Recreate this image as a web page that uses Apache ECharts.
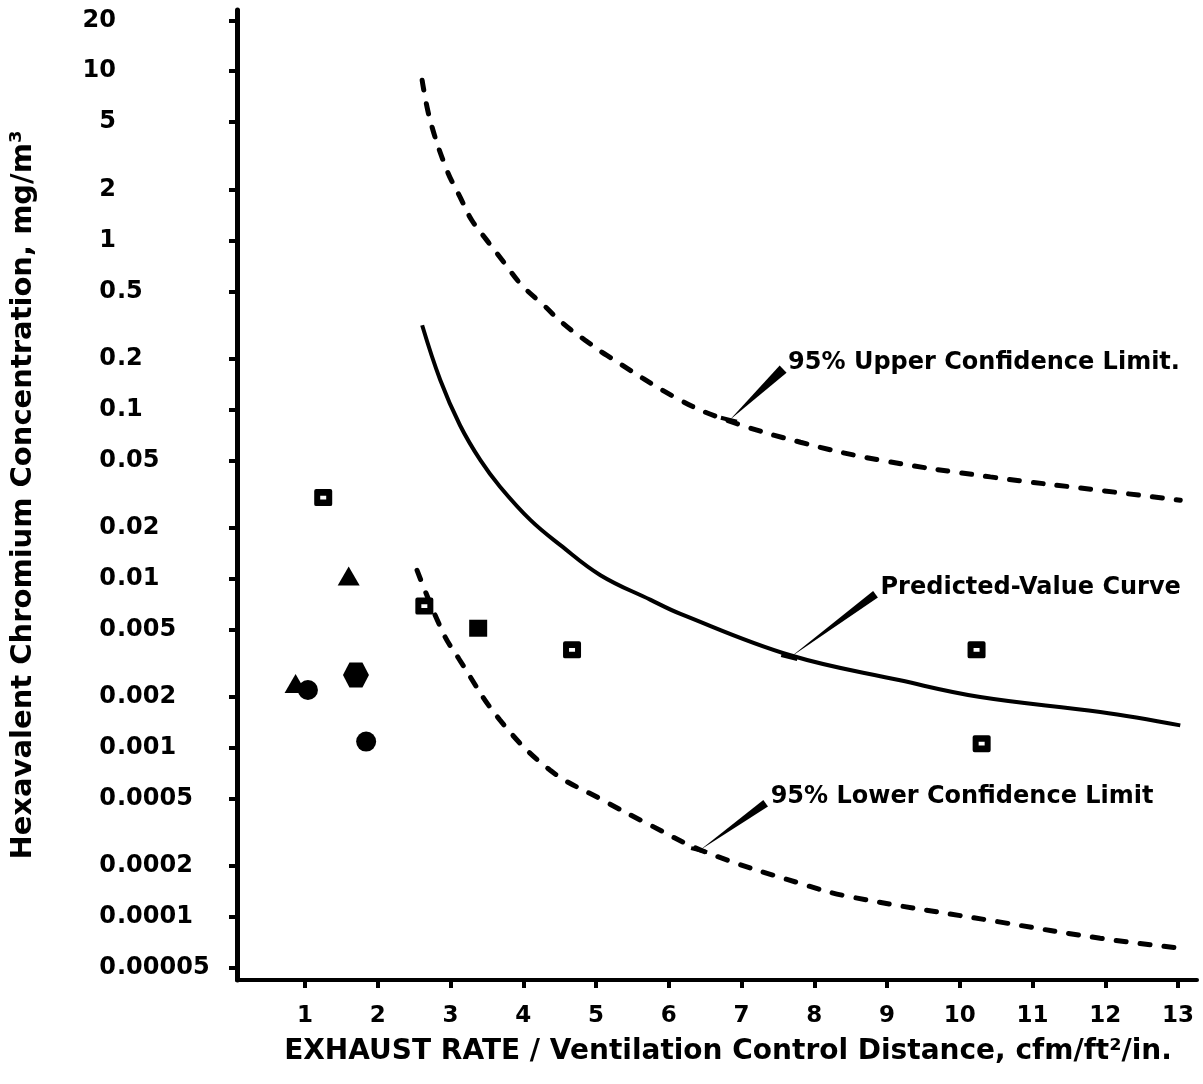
<!DOCTYPE html>
<html><head><meta charset="utf-8">
<script src="https://cdn.jsdelivr.net/npm/echarts@6/dist/echarts.min.js"></script>
<style>html,body{margin:0;padding:0;background:#fff}#c{width:1203px;height:1084px}</style>
</head><body><div id="c"></div>
<script>
// ---- axis ticks ----
const xTicks = [1,2,3,4,5,6,7,8,9,10,11,12,13];
const yTickValues = [0.00005,0.0001,0.0002,0.0005,0.001,0.002,0.005,0.01,0.02,0.05,0.1,0.2,0.5,1,2,5,10,20];
const yTickLabels = ['0.00005','0.0001','0.0002','0.0005','0.001','0.002','0.005','0.01','0.02','0.05','0.1','0.2','0.5','1','2','5','10','20'];

// ---- observed points [exhaust rate, concentration] ----
const openSquares   = [[1.25,0.0302],[2.64,0.0069],[4.67,0.0038],[10.23,0.0038],[10.30,0.00106]];
const filledSquares = [[3.38,0.0051]];
const triangles     = [[1.60,0.0104],[0.87,0.0024]];
const circles       = [[1.04,0.0022],[1.84,0.00109]];
const hexagons      = [[1.70,0.0027]];

// ---- curves ----
const upperX = [2.61,2.72,2.95,3.13,3.29,3.50,3.73,3.98,4.28,4.55,4.85,5.15,6.16,6.80,7.81,8.91,10.42,11.93,13.03];
const upperY = [8.84,5.13,2.6,1.81,1.32,1.0,0.745,0.543,0.414,0.322,0.257,0.209,0.1135,0.0865,0.0641,0.0502,0.040,0.0333,0.0291];
const predX  = [2.61,2.86,3.13,3.41,3.68,4.10,4.51,5.06,5.75,6.16,7.67,9.18,10.28,11.93,13.03];
const predY  = [0.315,0.149,0.0808,0.0502,0.035,0.0222,0.0158,0.0105,0.0075,0.0062,0.00353,0.00251,0.0020,0.00163,0.00136];
const lowerX = [2.54,2.90,3.11,3.68,4.37,5.06,5.75,6.50,7.81,8.49,10.56,11.93,13.03];
const lowerY = [0.0112,0.00476,0.00339,0.00146,0.000738,0.0005,0.000349,0.000243,0.000158,0.000132,0.0000934,0.000075,0.0000655];

// ---- annotations ----
const annotations = [
  {text:'95% Upper Confidence Limit.', tip:[6.84,0.087],    label:[7.64,0.188]},
  {text:'Predicted-Value Curve',       tip:[7.67,0.00344],  label:[8.91,0.00879]},
  {text:'95% Lower Confidence Limit',  tip:[6.43,0.000249], label:[7.40,0.000512]}
];

const FONT = 'DejaVu Sans';
const zip = (xs, ys) => xs.map((x,i) => [x, ys[i]]);
const SQ_OPEN = 'path://M2,0H16Q18,0 18,2V16Q18,18 16,18H2Q0,18 0,16V2Q0,0 2,0Z M6,7V11H12V7Z';
const HEX = 'path://M25,0L75,0L100,45L75,90L25,90L0,45Z';

function labelOf(v){
  let best = 0, bd = Infinity;
  yTickValues.forEach((t,i)=>{ const d = Math.abs(Math.log10(v)-Math.log10(t)); if (d<bd){bd=d;best=i;} });
  return yTickLabels[best];
}
const intPart  = v => { const s = labelOf(v), k = s.indexOf('.'); return k<0 ? s : s.slice(0,k); };
const fracPart = v => { const s = labelOf(v), k = s.indexOf('.'); return k<0 ? '' : s.slice(k); };

const tickFont = {color:'#000', fontFamily:FONT, fontWeight:'bold', fontSize:24};
const yBase = {type:'log', logBase:10, min:0.0000425, max:23, position:'left', splitLine:{show:false}, minorTick:{show:false}};

const chart = echarts.init(document.getElementById('c'), null, {renderer:'canvas'});
const lineBase = {type:'line', showSymbol:false, smooth:0.4, silent:true, z:3};
const dotStyle = {color:'#000', opacity:1};
chart.setOption({
  backgroundColor:'#fff',
  animation:false,
  grid:{left:237, right:6, top:10, bottom:104, containLabel:false},
  xAxis:{
    type:'value', min:0.065, max:13.26,
    axisLine:{onZero:false, lineStyle:{color:'#000', width:4}},
    axisTick:{customValues:xTicks, length:8, lineStyle:{color:'#000', width:4}},
    axisLabel:Object.assign({customValues:xTicks, margin:25}, tickFont, {fontSize:23}),
    splitLine:{show:false},
    name:'EXHAUST RATE / Ventilation Control Distance, cfm/ft\u00B2/in.',
    nameLocation:'middle', nameGap:58,
    nameTextStyle:{color:'#000', fontFamily:FONT, fontWeight:'bold', fontSize:28, padding:[0,0,0,22]}
  },
  yAxis:[
    Object.assign({}, yBase, {
      axisLine:{onZero:false, lineStyle:{color:'#000', width:5}},
      axisTick:{customValues:yTickValues, length:8, lineStyle:{color:'#000', width:4}},
      axisLabel:Object.assign({customValues:yTickValues, align:'right', margin:121, formatter:intPart}, tickFont),
      name:'Hexavalent Chromium Concentration, mg/m\u00B3',
      nameLocation:'middle', nameRotate:90, nameGap:199,
      nameTextStyle:{color:'#000', fontFamily:FONT, fontWeight:'bold', fontSize:29}
    }),
    Object.assign({}, yBase, {
      axisLine:{show:false}, axisTick:{show:false},
      axisLabel:Object.assign({customValues:yTickValues, align:'left', margin:120, formatter:fracPart}, tickFont)
    })
  ],
  series:[
    Object.assign({}, lineBase, {name:'95% Upper Confidence Limit', data:zip(upperX,upperY),
      lineStyle:{color:'#000', width:5, type:[10,14], cap:'round'}}),
    Object.assign({}, lineBase, {name:'Predicted-Value Curve', data:zip(predX,predY),
      lineStyle:{color:'#000', width:4}}),
    Object.assign({}, lineBase, {name:'95% Lower Confidence Limit', data:zip(lowerX,lowerY),
      lineStyle:{color:'#000', width:5, type:[10,14], cap:'round'}}),
    {type:'scatter', data:openSquares, symbol:SQ_OPEN, symbolSize:[18,17], itemStyle:dotStyle, z:5},
    {type:'scatter', data:filledSquares, symbol:'rect', symbolSize:[18,17], itemStyle:dotStyle, z:5},
    {type:'scatter', data:triangles, symbol:'triangle', symbolSize:[22,19], itemStyle:dotStyle, z:5},
    {type:'scatter', data:circles, symbol:'circle', symbolSize:20, itemStyle:dotStyle, z:5},
    {type:'scatter', data:hexagons, symbol:HEX, symbolSize:[26,25], itemStyle:dotStyle, z:5}
  ]
});

function wedge(tip, end, w){
  const dx = end[0]-tip[0], dy = end[1]-tip[1], L = Math.hypot(dx,dy);
  const nx = -dy/L, ny = dx/L;
  return [[tip[0],tip[1]],[end[0]+nx*w/2,end[1]+ny*w/2],[end[0]-nx*w/2,end[1]-ny*w/2]];
}
const graphics = [];
annotations.forEach((a, idx) => {
  const tp = chart.convertToPixel({xAxisIndex:0, yAxisIndex:0}, a.tip);
  const lp = chart.convertToPixel({xAxisIndex:0, yAxisIndex:0}, a.label);
  const end = [lp[0]-5, lp[1]+6];
  graphics.push({type:'polygon', shape:{points:wedge(tp,end, idx===0?10:8)}, style:{fill:'#000'}, z:10});
  graphics.push({type:'line', shape:{x1:tp[0]-9, y1:tp[1]-2, x2:tp[0]+7, y2:tp[1]+2}, style:{stroke:'#000', lineWidth:4}, z:10});
  graphics.push({type:'text', x:lp[0], y:lp[1], style:{text:a.text, fill:'#000',
    font:'bold 24px "'+FONT+'"', verticalAlign:'middle', align:'left'}, z:10});
});
chart.setOption({graphic:graphics});
</script>
</body></html>
